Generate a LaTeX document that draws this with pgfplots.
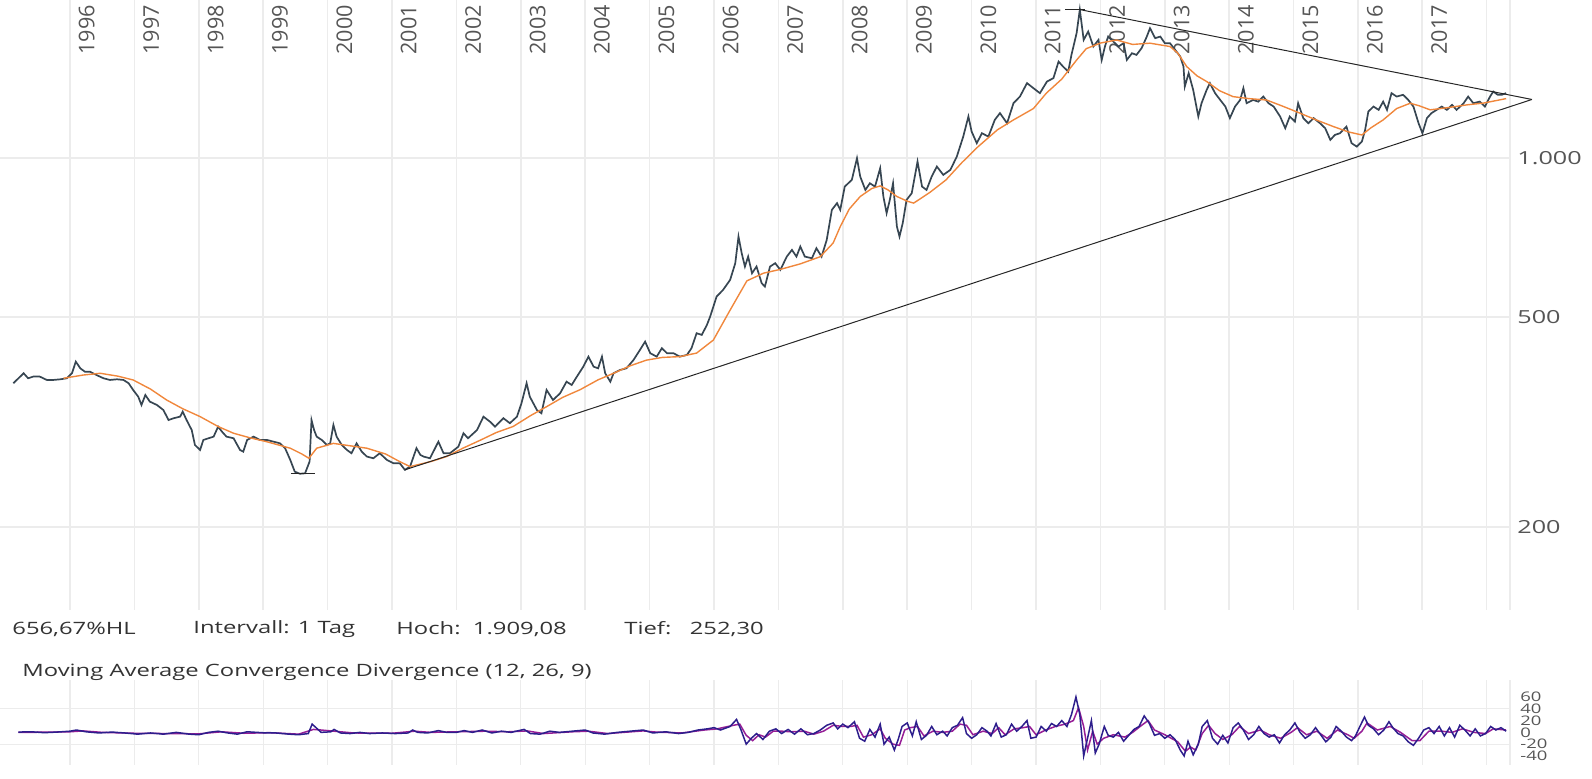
\documentclass[border=0pt]{standalone}
\usepackage{fontspec}
\setmainfont{Open Sans}
\newfontfamily\widefont{Open Sans}[FakeStretch=1.4]
\usepackage{pgfplots}
\pgfplotsset{compat=1.18}
\definecolor{priceline}{RGB}{55,70,82}
\definecolor{maline}{RGB}{240,135,60}
\definecolor{gridc}{RGB}{236,236,236}
\definecolor{macdc}{RGB}{45,30,140}
\definecolor{sigc}{RGB}{150,30,150}
\definecolor{labc}{RGB}{85,85,85}

\begin{document}
\begin{tikzpicture}
\path[use as bounding box] (0pt,0pt) rectangle (796pt,-389.5pt);

% ---------- price panel (log scale) ----------
\begin{axis}[
  at={(0pt,0pt)}, anchor=north west,
  width=767.5pt, height=305pt, scale only axis,
  xmin=1994.913, xmax=2018.748,
  ymode=log, ymin=139.3, ymax=1991,
  axis line style={draw=none},
  xtick={1996,...,2018}, xticklabels={},
  xmajorgrids,
  grid style={gridc, line width=0.8pt},
  major tick length=0pt,
  ytick={200,500,1000}, yticklabels={200,500,1.000},
  yticklabel pos=right,
  yticklabel style={font=\widefont\fontsize{9}{9}\selectfont, text=labc,
    anchor=west, inner sep=0pt, xshift=-9pt},
]
% horizontal guides and right border
\addplot[gridc, line width=0.8pt] coordinates {(1994.913,1000) (2018.36,1000)};
\addplot[gridc, line width=0.8pt] coordinates {(1994.913,500) (2018.36,500)};
\addplot[gridc, line width=0.8pt] coordinates {(1994.913,200) (2018.36,200)};
\addplot[gridc, line width=0.8pt] coordinates {(2018.36,139.3) (2018.36,1991)};

\pgfplotsinvokeforeach{1996,...,2017}{
  \node[rotate=90, anchor=east, inner sep=0pt, text=labc,
    font=\fontsize{9}{9}\selectfont] at (axis cs:#1.26,1949) {\scalebox{1.2}[1.2]{#1}};
}

% price (daily close)
\addplot[priceline, line width=0.85pt] coordinates {
(1995.12,374.4) (1995.20,382.6) (1995.28,391.0) (1995.35,382.6) (1995.43,385.4)
(1995.53,385.4) (1995.64,379.8) (1995.74,379.8) (1995.85,380.9) (1995.95,382.6)
(1996.03,391.0) (1996.09,411.3) (1996.16,399.6) (1996.23,393.8) (1996.31,393.8)
(1996.41,388.1) (1996.52,382.6) (1996.62,379.8) (1996.73,380.9) (1996.83,379.8)
(1996.91,374.4) (1996.98,363.6) (1997.06,353.0) (1997.11,340.5) (1997.17,355.7)
(1997.24,345.5) (1997.35,340.5) (1997.45,333.1) (1997.53,318.9) (1997.61,321.4)
(1997.71,323.7) (1997.75,330.8) (1997.81,318.9) (1997.89,305.3) (1997.94,286.0)
(1998.02,279.9) (1998.07,292.3) (1998.15,294.5) (1998.23,296.6) (1998.30,309.8)
(1998.36,303.1) (1998.43,296.6) (1998.54,294.5) (1998.64,279.9) (1998.69,277.8)
(1998.75,292.3) (1998.85,296.6) (1998.95,292.3) (1999.06,292.3) (1999.16,290.2)
(1999.26,288.1) (1999.34,282.0) (1999.42,268.0) (1999.49,254.6) (1999.57,252.3)
(1999.65,252.8) (1999.72,266.0) (1999.75,318.9) (1999.79,305.3) (1999.83,296.6)
(1999.91,292.3) (1999.99,286.0) (2000.04,288.1) (2000.09,312.1) (2000.14,296.6)
(2000.22,286.0) (2000.30,279.9) (2000.37,275.9) (2000.45,288.1) (2000.53,277.8)
(2000.61,271.9) (2000.71,269.9) (2000.81,275.9) (2000.92,268.0) (2001.02,264.2)
(2001.12,264.2) (2001.20,256.6) (2001.28,260.3) (2001.38,282.0) (2001.44,273.9)
(2001.49,271.9) (2001.59,269.9) (2001.72,290.2) (2001.80,275.9) (2001.90,275.9)
(2002.03,283.9) (2002.11,301.0) (2002.18,294.5) (2002.32,305.3) (2002.42,323.6)
(2002.52,316.7) (2002.60,309.8) (2002.73,321.4) (2002.83,314.5) (2002.94,323.6)
(2003.01,343.0) (2003.09,374.4) (2003.14,353.0) (2003.25,333.1) (2003.32,328.4)
(2003.40,363.6) (2003.50,348.0) (2003.61,358.3) (2003.71,377.0) (2003.79,371.6)
(2003.87,385.3) (2003.97,402.4) (2004.05,420.4) (2004.13,402.4) (2004.20,399.6)
(2004.26,420.4) (2004.31,391.0) (2004.39,377.0) (2004.44,391.0) (2004.54,396.6)
(2004.64,399.6) (2004.75,414.3) (2004.85,432.9) (2004.93,448.8) (2005.01,426.7)
(2005.11,420.4) (2005.19,436.1) (2005.27,426.7) (2005.37,426.7) (2005.47,420.4)
(2005.58,423.6) (2005.65,436.1) (2005.73,465.6) (2005.81,462.2) (2005.89,482.8)
(2005.94,500.6) (2006.04,546.2) (2006.14,562.3) (2006.25,587.4) (2006.33,631.8)
(2006.38,709.6) (2006.43,659.9) (2006.48,622.6) (2006.53,650.3) (2006.59,604.7)
(2006.66,622.6) (2006.74,579.1) (2006.79,570.6) (2006.87,622.6) (2006.95,631.8)
(2007.03,613.7) (2007.13,650.3) (2007.21,669.5) (2007.28,650.3) (2007.34,679.3)
(2007.41,650.3) (2007.52,645.7) (2007.59,674.4) (2007.67,650.3) (2007.75,699.3)
(2007.83,797.4) (2007.91,820.9) (2007.96,797.4) (2008.03,882.4) (2008.14,908.5)
(2008.22,998.6) (2008.27,921.8) (2008.35,869.6) (2008.42,895.3) (2008.50,882.4)
(2008.58,955.9) (2008.63,844.7) (2008.68,785.9) (2008.73,832.8) (2008.78,895.3)
(2008.84,741.3) (2008.88,709.6) (2008.93,752.2) (2008.99,832.8) (2009.07,857.1)
(2009.16,984.2) (2009.23,882.4) (2009.30,869.6) (2009.38,921.8) (2009.46,963.0)
(2009.56,928.6) (2009.67,949.1) (2009.77,1005.8) (2009.87,1097.4) (2009.95,1197.7)
(2010.00,1121.7) (2010.08,1066.1) (2010.16,1113.5) (2010.26,1097.4) (2010.36,1180.4)
(2010.44,1215.4) (2010.55,1163.0) (2010.65,1269.2) (2010.75,1306.5) (2010.86,1385.3)
(2010.96,1355.2) (2011.06,1326.0) (2011.17,1395.0) (2011.27,1415.7) (2011.35,1521.7)
(2011.42,1489.0) (2011.50,1456.8) (2011.55,1566.8) (2011.63,1722.0) (2011.68,1909.08)
(2011.74,1672.9) (2011.81,1734.6) (2011.89,1625.0) (2011.97,1672.9) (2012.02,1532.9)
(2012.07,1625.0) (2012.12,1697.3) (2012.20,1660.7) (2012.28,1625.0) (2012.36,1648.9)
(2012.41,1532.9) (2012.49,1578.3) (2012.56,1566.8) (2012.64,1613.8) (2012.72,1697.3)
(2012.77,1760.2) (2012.85,1685.3) (2012.93,1697.3) (2013.00,1648.9) (2013.08,1648.9)
(2013.16,1601.8) (2013.24,1555.4) (2013.29,1489.0) (2013.31,1365.1) (2013.37,1446.7)
(2013.44,1345.5) (2013.52,1197.7) (2013.57,1269.2) (2013.65,1345.5) (2013.70,1385.3)
(2013.78,1326.0) (2013.86,1287.5) (2013.94,1250.8) (2014.01,1189.3) (2014.09,1250.8)
(2014.17,1287.5) (2014.22,1355.2) (2014.27,1269.2) (2014.37,1287.5) (2014.45,1278.1)
(2014.53,1306.5) (2014.61,1269.2) (2014.69,1250.8) (2014.79,1197.7) (2014.87,1138.1)
(2014.94,1197.7) (2015.02,1171.4) (2015.07,1269.2) (2015.15,1189.3) (2015.23,1163.0)
(2015.31,1189.3) (2015.41,1163.0) (2015.49,1138.1) (2015.57,1081.6) (2015.64,1105.2)
(2015.72,1113.5) (2015.82,1146.1) (2015.90,1066.1) (2015.98,1050.5) (2016.06,1073.7)
(2016.11,1129.5) (2016.16,1223.8) (2016.24,1250.8) (2016.32,1232.8) (2016.39,1278.1)
(2016.45,1232.8) (2016.52,1326.0) (2016.60,1306.5) (2016.70,1316.4) (2016.78,1287.5)
(2016.86,1250.8) (2016.94,1163.0) (2017.00,1113.5) (2017.07,1189.3) (2017.14,1215.4)
(2017.22,1232.8) (2017.30,1250.8) (2017.38,1232.8) (2017.46,1259.9) (2017.53,1232.8)
(2017.64,1269.2) (2017.71,1306.5) (2017.79,1269.2) (2017.89,1278.1) (2017.97,1250.8)
(2018.05,1306.5) (2018.10,1335.6) (2018.17,1316.4) (2018.23,1316.4) (2018.30,1326.0)
};

% moving average
\addplot[maline, line width=0.7pt] coordinates {
(1995.90,382.6) (1996.20,388) (1996.47,391) (1996.75,386) (1996.98,379.8)
(1997.25,365) (1997.50,348) (1997.75,335) (1998.02,323.7) (1998.30,310)
(1998.54,301) (1998.80,295) (1999.06,290) (1999.42,282) (1999.60,275)
(1999.71,269.9) (1999.83,282) (2000.09,288) (2000.35,285) (2000.61,282)
(2000.90,275) (2001.12,266) (2001.28,260.3) (2001.60,266) (2001.85,272)
(2002.10,282) (2002.37,292) (2002.62,302) (2002.88,310) (2003.15,325)
(2003.40,338) (2003.65,352) (2003.92,364) (2004.20,380) (2004.44,391)
(2004.70,404) (2004.95,414) (2005.20,419) (2005.47,420.4) (2005.73,427)
(2005.99,452) (2006.25,515) (2006.51,585) (2006.77,605) (2007.03,615)
(2007.34,630) (2007.65,650) (2007.85,690) (2007.96,741) (2008.10,800)
(2008.27,845) (2008.45,875) (2008.58,885) (2008.70,870) (2008.84,845)
(2009.00,828) (2009.10,821) (2009.35,860) (2009.60,908) (2009.85,980)
(2010.10,1050) (2010.40,1130) (2010.65,1180) (2010.96,1240) (2011.16,1326)
(2011.40,1410) (2011.63,1532) (2011.78,1610) (2012.00,1650) (2012.25,1672)
(2012.50,1640) (2012.77,1649) (2013.08,1625) (2013.20,1580) (2013.34,1489)
(2013.50,1430) (2013.65,1395) (2013.85,1340) (2014.06,1306) (2014.30,1295)
(2014.58,1287) (2014.85,1250) (2015.10,1215) (2015.35,1180) (2015.62,1146)
(2015.85,1120) (2016.06,1105) (2016.20,1140) (2016.39,1180) (2016.60,1240)
(2016.81,1269) (2016.95,1255) (2017.12,1233) (2017.40,1245) (2017.69,1260)
(2017.95,1270) (2018.19,1287) (2018.30,1295)
};

% triangle and high / low markers
\addplot[black!85, line width=0.5pt] coordinates {(2011.68,1909.08) (2018.70,1290)};
\addplot[black!85, line width=0.5pt] coordinates {(2001.20,256.6) (2018.70,1290)};
\addplot[black!85, line width=0.6pt] coordinates {(2011.45,1909.08) (2011.76,1909.08)};
\addplot[black!85, line width=0.6pt] coordinates {(1999.43,252.3) (1999.80,252.3)};
\end{axis}

% ---------- info lines ----------
\begin{scope}[every node/.style={anchor=west, inner sep=0pt, text=black!80,
    font=\widefont\fontsize{8.5}{8.5}\selectfont}]
\node at (6pt,-314.5pt) {656,67\%HL};
\node at (96.5pt,-314.5pt) {Intervall: 1 Tag};
\node at (198pt,-314.5pt) {Hoch:\ \ 1.909,08};
\node at (312pt,-314.5pt) {Tief:\ \ \ 252,30};
\node at (11pt,-336pt) {Moving Average Convergence Divergence (12, 26, 9)};
\end{scope}

% ---------- MACD panel ----------
\begin{axis}[
  at={(0pt,-340pt)}, anchor=north west,
  width=767.5pt, height=42.5pt, scale only axis,
  xmin=1994.913, xmax=2018.748,
  ymin=-55.3, ymax=88.8,
  axis line style={draw=none},
  xtick={1996,...,2018}, xticklabels={},
  xmajorgrids,
  grid style={gridc, line width=0.6pt},
  major tick length=0pt,
  ytick={-40,-20,0,20,40,60}, yticklabels={-40,-20,0,20,40,60},
  yticklabel pos=right,
  yticklabel style={font=\widefont\fontsize{6.6}{6.6}\selectfont, text=labc,
    anchor=west, inner sep=0pt, xshift=-7.5pt},
]
\addplot[gridc, line width=0.6pt] coordinates {(1994.913,40) (2018.36,40)};
\addplot[gridc, line width=0.6pt] coordinates {(1994.913,-20) (2018.36,-20)};
\addplot[gridc, line width=0.6pt] coordinates {(2018.36,-55.3) (2018.36,88.8)};
\addplot[sigc, line width=0.75pt] coordinates {
(1995.20,0) (1995.60,0.3) (1996.00,1) (1996.20,2.5) (1996.50,0) (1997.00,-1.5)
(1997.50,-2) (1998.00,-2.5) (1998.35,1) (1998.70,-1.5) (1999.10,-0.5) (1999.55,-3)
(1999.78,5) (1999.90,4) (2000.10,2) (2000.40,-1) (2001.00,-1.5) (2001.35,2)
(2001.60,0) (2002.00,1) (2002.45,2) (2002.80,1) (2003.10,2.5) (2003.35,-2)
(2003.80,1) (2004.05,2) (2004.35,-2) (2004.90,2.5) (2005.10,0.5) (2005.50,-1)
(2005.85,4) (2006.05,6) (2006.30,12) (2006.40,14) (2006.50,-5) (2006.60,-14)
(2006.70,-4) (2006.80,-8) (2006.92,2) (2007.05,2) (2007.20,1) (2007.40,2)
(2007.55,-3) (2007.70,2) (2007.85,12) (2008.00,10) (2008.12,10) (2008.22,12)
(2008.32,-8) (2008.45,-4) (2008.58,6) (2008.66,-10) (2008.78,-20) (2008.88,-22)
(2008.96,4) (2009.05,8) (2009.16,10) (2009.26,-6) (2009.40,2) (2009.55,0)
(2009.70,2) (2009.82,14) (2009.92,12) (2010.02,-4) (2010.18,2) (2010.32,-2)
(2010.42,8) (2010.52,-4) (2010.66,6) (2010.80,8) (2010.90,10) (2011.00,-4)
(2011.15,4) (2011.30,10) (2011.45,14) (2011.58,20) (2011.66,42) (2011.74,10)
(2011.80,-30) (2011.88,2) (2011.95,-20) (2012.05,-10) (2012.20,-4) (2012.38,-8)
(2012.50,0) (2012.64,12) (2012.74,20) (2012.84,4) (2013.00,-4) (2013.20,-16)
(2013.32,-32) (2013.40,-25) (2013.48,-30) (2013.58,-2) (2013.68,12) (2013.78,-2)
(2013.90,-12) (2014.04,-4) (2014.16,10) (2014.30,-2) (2014.48,4) (2014.62,-4)
(2014.80,-10) (2014.96,0) (2015.06,8) (2015.20,-4) (2015.36,2) (2015.52,-10)
(2015.68,4) (2015.84,-4) (2015.94,-10) (2016.06,2) (2016.14,16) (2016.30,4)
(2016.50,10) (2016.66,0) (2016.84,-14) (2016.96,-14) (2017.10,2) (2017.30,2)
(2017.46,0) (2017.62,6) (2017.80,0) (2017.98,-2) (2018.10,6) (2018.30,4)
};
\addplot[macdc, line width=0.75pt] coordinates {
(1995.20,0.5) (1995.40,1) (1995.60,-0.5) (1995.80,0.5) (1996.00,2) (1996.10,4)
(1996.25,1) (1996.45,-1) (1996.65,0.5) (1996.85,-1) (1997.05,-3) (1997.25,-1)
(1997.45,-3) (1997.65,0) (1997.85,-3) (1998.00,-4) (1998.15,0) (1998.30,2)
(1998.45,-1) (1998.60,-3) (1998.75,1) (1998.90,0) (1999.05,-1) (1999.20,-1)
(1999.40,-3) (1999.55,-4) (1999.70,-2) (1999.76,14) (1999.82,8) (1999.90,0)
(2000.05,1) (2000.10,5) (2000.20,-1) (2000.35,-2) (2000.50,0) (2000.65,-2)
(2000.85,-1) (2001.05,-2) (2001.25,-1) (2001.32,4) (2001.40,0) (2001.55,-1)
(2001.72,3) (2001.85,0) (2002.00,0) (2002.12,3) (2002.25,0) (2002.40,4)
(2002.55,-1) (2002.70,2) (2002.85,0) (2003.05,5) (2003.15,-2) (2003.30,-3)
(2003.45,2) (2003.60,0) (2003.80,2) (2004.00,4) (2004.12,-1) (2004.30,-3)
(2004.50,0) (2004.70,2) (2004.90,4) (2005.05,-1) (2005.25,1) (2005.45,-2)
(2005.60,0) (2005.75,4) (2005.90,6) (2006.00,8) (2006.10,4) (2006.25,10)
(2006.35,22) (2006.42,4) (2006.50,-20) (2006.58,-10) (2006.66,-2) (2006.76,-12)
(2006.86,2) (2006.96,6) (2007.05,-2) (2007.15,5) (2007.25,-3) (2007.35,6)
(2007.45,-4) (2007.55,-2) (2007.65,4) (2007.75,12) (2007.85,16) (2007.92,6)
(2008.00,14) (2008.08,8) (2008.18,18) (2008.26,-10) (2008.34,-15) (2008.42,5)
(2008.50,-8) (2008.58,14) (2008.64,-20) (2008.72,-8) (2008.80,-30) (2008.86,-12)
(2008.92,10) (2009.00,16) (2009.08,-6) (2009.14,18) (2009.22,-12) (2009.30,-5)
(2009.38,10) (2009.46,-4) (2009.55,2) (2009.62,-6) (2009.70,8) (2009.78,12)
(2009.86,25) (2009.92,-2) (2010.00,-10) (2010.08,-4) (2010.16,8) (2010.24,2)
(2010.30,-6) (2010.38,15) (2010.46,-8) (2010.54,-4) (2010.62,14) (2010.70,2)
(2010.78,10) (2010.86,20) (2010.92,-10) (2011.00,-8) (2011.08,10) (2011.16,2)
(2011.24,15) (2011.32,10) (2011.40,20) (2011.48,10) (2011.55,30) (2011.62,60)
(2011.68,30) (2011.74,-40) (2011.80,-10) (2011.86,20) (2011.92,-35) (2011.98,-20)
(2012.06,10) (2012.12,-5) (2012.20,-8) (2012.28,0) (2012.36,-15) (2012.44,-5)
(2012.52,5) (2012.60,10) (2012.68,28) (2012.76,15) (2012.84,-5) (2012.92,-2)
(2013.00,-10) (2013.08,-4) (2013.16,-12) (2013.24,-30) (2013.30,-40) (2013.36,-15)
(2013.44,-38) (2013.52,-20) (2013.58,10) (2013.66,20) (2013.74,-10) (2013.82,-20)
(2013.90,-5) (2013.98,-18) (2014.06,8) (2014.14,16) (2014.22,4) (2014.30,-12)
(2014.38,-4) (2014.46,10) (2014.54,-2) (2014.62,-8) (2014.70,-4) (2014.78,-18)
(2014.86,-4) (2014.94,4) (2015.02,16) (2015.10,0) (2015.18,-10) (2015.26,-4)
(2015.34,8) (2015.42,-4) (2015.50,-16) (2015.58,-8) (2015.66,10) (2015.74,2)
(2015.82,-8) (2015.90,-14) (2015.96,-6) (2016.02,8) (2016.10,26) (2016.16,12)
(2016.24,6) (2016.32,-4) (2016.40,4) (2016.48,18) (2016.54,8) (2016.62,-2)
(2016.70,-6) (2016.78,-16) (2016.86,-22) (2016.94,-10) (2017.02,4) (2017.10,8)
(2017.18,-2) (2017.26,10) (2017.34,-6) (2017.42,8) (2017.50,-8) (2017.58,12)
(2017.66,4) (2017.74,-6) (2017.82,6) (2017.90,-6) (2017.98,-2) (2018.06,10)
(2018.14,4) (2018.22,8) (2018.30,2)
};
\end{axis}
\end{tikzpicture}
\end{document}
